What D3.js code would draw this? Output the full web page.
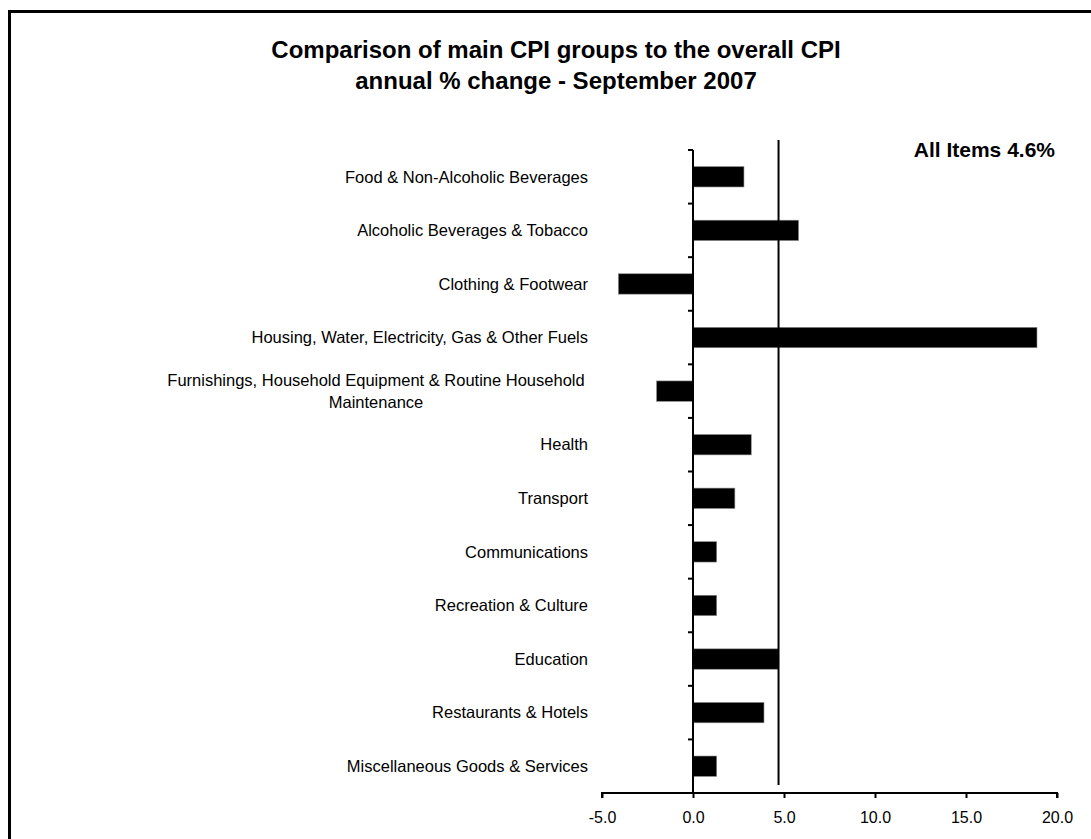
<!DOCTYPE html>
<html>
<head>
<meta charset="utf-8">
<script src="https://cdn.jsdelivr.net/npm/d3@7/dist/d3.min.js"></script>
<style>
  body { margin: 0; background: #fff; }
  text { font-family: "Liberation Sans", Arial, Helvetica, sans-serif; fill: #000; }
</style>
</head>
<body>
<svg id="chart"></svg>
<script>
"use strict";

// CPI groups, top to bottom ("|" marks the wrap in the long label)
var categories = [
  "Food & Non-Alcoholic Beverages",
  "Alcoholic Beverages & Tobacco",
  "Clothing & Footwear",
  "Housing, Water, Electricity, Gas & Other Fuels",
  "Furnishings, Household Equipment & Routine Household|Maintenance",
  "Health",
  "Transport",
  "Communications",
  "Recreation & Culture",
  "Education",
  "Restaurants & Hotels",
  "Miscellaneous Goods & Services"
];

// annual % change, Sep 2007
var changes = [2.8, 5.8, -4.1, 18.9, -2.0, 3.2, 2.3, 1.3, 1.3, 4.7, 3.9, 1.3];

var xTicks = [-5, 0, 5, 10, 15, 20];
var allItems = 4.6;
var allItemsLine = 4.7;   // where the reference line sits in the picture

var titleLines = [
  "Comparison of main CPI groups to the overall CPI",
  "annual % change - September 2007"
];

var config = {
  width: 1091,
  height: 839,
  plot: {left: 602, right: 1057, top: 150, bottom: 793},
  labelRight: 588,
  labelSize: 16.5
};

var svg = d3.select("#chart")
  .attr("width", config.width)
  .attr("height", config.height);

// outer frame (right and bottom edges run off the page)
svg.append("rect")
  .attr("x", 9.5).attr("y", 11.5)
  .attr("width", 1200).attr("height", 1000)
  .attr("fill", "none")
  .attr("stroke", "#000")
  .attr("stroke-width", 3);

var xScale = d3.scaleLinear()
  .domain([-5, 20])
  .range([config.plot.left, config.plot.right]);

var yScale = d3.scaleBand()
  .domain(categories)
  .range([config.plot.top, config.plot.bottom])
  .paddingInner(0.62)
  .paddingOuter(0.31);

var bandStep = (config.plot.bottom - config.plot.top) / categories.length;

// title
svg.append("g").selectAll("text")
  .data(titleLines)
  .enter().append("text")
  .attr("x", 556)
  .attr("y", function(d, i) { return 58 + i * 31; })
  .attr("text-anchor", "middle")
  .style("font-size", "24px")
  .style("font-weight", "bold")
  .text(function(d) { return d; });

// bars
svg.append("g").selectAll("rect")
  .data(changes)
  .enter().append("rect")
  .attr("x", function(d) { return xScale(Math.min(0, d)); })
  .attr("y", function(d, i) { return yScale(categories[i]); })
  .attr("width", function(d) { return Math.abs(xScale(d) - xScale(0)); })
  .attr("height", yScale.bandwidth())
  .attr("fill", "#000")
  .attr("stroke", "#888")
  .attr("stroke-width", 0.6);

// x axis
var xAxis = d3.axisBottom(xScale)
  .tickValues(xTicks)
  .tickFormat(function(d) { return d.toFixed(1); })
  .tickSize(5)
  .tickSizeOuter(5)
  .tickPadding(14);

var xg = svg.append("g")
  .attr("transform", "translate(0," + config.plot.bottom + ")")
  .call(xAxis);
xg.select(".domain").attr("stroke-width", 2).attr("d",
  "M" + xScale(-5) + ",5V0H" + xScale(20) + "V5");
xg.selectAll(".tick line").attr("stroke-width", 2);
xg.selectAll(".tick text")
  .style("font-size", "16px")
  .style("font-family", "'Liberation Sans', Arial, sans-serif")
  .attr("fill", "#000");

// y axis at zero
var yg = svg.append("g")
  .attr("transform", "translate(" + xScale(0) + ",0)");
yg.append("line")
  .attr("x1", 0).attr("x2", 0)
  .attr("y1", config.plot.top).attr("y2", config.plot.bottom)
  .attr("stroke", "#000").attr("stroke-width", 2);
yg.selectAll(".cat-tick")
  .data(d3.range(categories.length))
  .enter().append("line")
  .attr("class", "cat-tick")
  .attr("x1", -5).attr("x2", 0)
  .attr("y1", function(i) { return config.plot.top + i * bandStep; })
  .attr("y2", function(i) { return config.plot.top + i * bandStep; })
  .attr("stroke", "#000").attr("stroke-width", 2);

// category labels
var labels = svg.append("g").selectAll("text")
  .data(categories)
  .enter().append("text")
  .attr("x", config.labelRight)
  .attr("y", function(d) { return yScale(d) + yScale.bandwidth() / 2; })
  .attr("text-anchor", "end")
  .style("font-size", config.labelSize + "px");

labels.each(function(d) {
  var parts = d.split("|");
  var t = d3.select(this);
  if (parts.length === 1) {
    t.attr("dy", "0.35em").text(d);
  } else {
    // wrapped label: lines centred on each other
    t.attr("text-anchor", "middle");
    parts.forEach(function(p, i) {
      t.append("tspan")
        .attr("x", 376)
        .attr("dy", i === 0 ? "-0.32em" : "1.33em")
        .text(p);
    });
  }
});

// all items line
svg.append("line")
  .attr("x1", xScale(allItemsLine)).attr("x2", xScale(allItemsLine))
  .attr("y1", 140).attr("y2", 785)
  .attr("stroke", "#000").attr("stroke-width", 2);

svg.append("text")
  .attr("x", 1055)
  .attr("y", 156.5)
  .attr("text-anchor", "end")
  .style("font-size", "21px")
  .style("font-weight", "bold")
  .text("All Items " + allItems.toFixed(1) + "%");
</script>
</body>
</html>
